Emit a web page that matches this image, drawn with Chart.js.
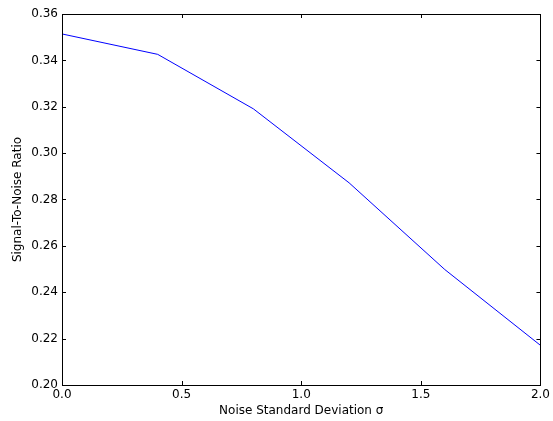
<!DOCTYPE html>
<html>
<head>
<meta charset="utf-8">
<script src="https://cdn.jsdelivr.net/npm/chart.js@4/dist/chart.umd.min.js"></script>
<style>
  html, body { margin: 0; padding: 0; background: #fff; }
  #box { width: 553px; height: 421px; }
</style>
</head>
<body>
<div id="box"><canvas id="grafico"></canvas></div>
<script>
// valores
const sigma = [0.0, 0.4, 0.8, 1.2, 1.6, 2.0];
const snr = [0.3514, 0.3426, 0.3191, 0.2872, 0.2498, 0.2171];
const xTicks = [0.0, 0.5, 1.0, 1.5, 2.0];
const yTicks = [0.20, 0.22, 0.24, 0.26, 0.28, 0.30, 0.32, 0.34, 0.36];

const fonte = { family: "DejaVu Sans", size: 12 };

// moldura e marcas para dentro (estilo matplotlib)
const moldura = {
  id: "moldura",
  afterDatasetsDraw(chart) {
    const ctx = chart.ctx;
    const a = chart.chartArea;
    const sx = chart.scales.x, sy = chart.scales.y;
    const L = 4;
    ctx.save();
    ctx.strokeStyle = "#000";
    ctx.lineWidth = 1;
    ctx.beginPath();
    xTicks.forEach(v => {
      const px = Math.round(sx.getPixelForValue(v)) + 0.5;
      ctx.moveTo(px, a.bottom); ctx.lineTo(px, a.bottom - L);
      ctx.moveTo(px, a.top); ctx.lineTo(px, a.top + L);
    });
    yTicks.forEach(v => {
      const py = Math.round(sy.getPixelForValue(v)) + 0.5;
      ctx.moveTo(a.left, py); ctx.lineTo(a.left + L, py);
      ctx.moveTo(a.right, py); ctx.lineTo(a.right - L, py);
    });
    ctx.stroke();
    ctx.strokeRect(Math.round(a.left) + 0.5, Math.round(a.top) + 0.5,
      Math.round(a.right - a.left), Math.round(a.bottom - a.top));
    ctx.restore();
  }
};

new Chart(document.getElementById("grafico"), {
  type: "line",
  data: {
    datasets: [{
      data: sigma.map((s, i) => ({ x: s, y: snr[i] })),
      borderColor: "#0000ff",
      borderWidth: 1,
      pointRadius: 0,
      fill: false,
      tension: 0
    }]
  },
  options: {
    responsive: true,
    maintainAspectRatio: false,
    animation: false,
    events: [],
    layout: { padding: { left: 0, right: 12, top: 14, bottom: 0 } },
    plugins: { legend: { display: false }, tooltip: { enabled: false } },
    scales: {
      x: {
        type: "linear",
        min: 0, max: 2,
        afterFit: s => { s.height = 36; },
        afterBuildTicks: s => { s.ticks = xTicks.map(v => ({ value: v })); },
        grid: { display: false, drawTicks: false },
        border: { display: false },
        ticks: { color: "#000", font: fonte, padding: 3, maxRotation: 0,
          callback: v => v.toFixed(1) },
        title: { display: true, text: "Noise Standard Deviation σ", color: "#000",
          font: fonte, padding: { top: 0, bottom: 3 } }
      },
      y: {
        min: 0.2, max: 0.36,
        afterFit: s => { s.width = 62; },
        afterBuildTicks: s => { s.ticks = yTicks.map(v => ({ value: v })); },
        grid: { display: false, drawTicks: false },
        border: { display: false },
        ticks: { color: "#000", font: fonte, padding: 4,
          callback: v => v.toFixed(2) },
        title: { display: true, text: "Signal-To-Noise Ratio", color: "#000",
          font: fonte, padding: { top: 11, bottom: 0 } }
      }
    }
  },
  plugins: [moldura]
});
</script>
</body>
</html>
